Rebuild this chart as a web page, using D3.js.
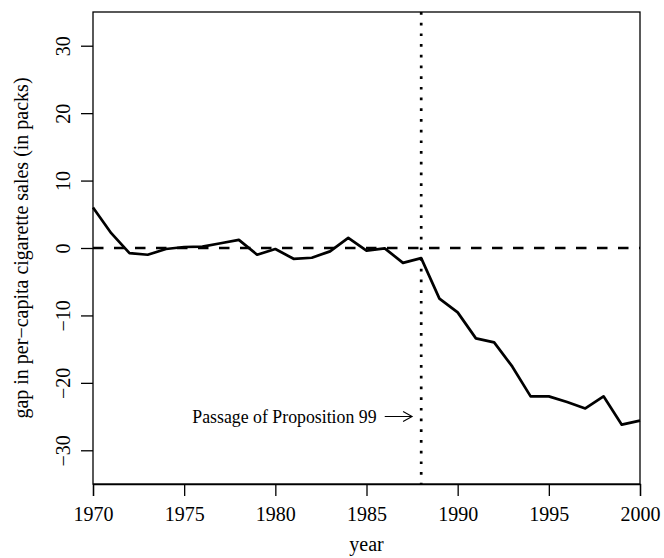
<!DOCTYPE html>
<html>
<head>
<meta charset="utf-8">
<script src="https://cdn.jsdelivr.net/npm/d3@7"></script>
<style>
  body { margin: 0; background: #fff; }
  text { font-family: "Liberation Serif", "Times New Roman", serif; fill: #000; }
</style>
</head>
<body>
<div id="chart"></div>
<script>
// gap between California and synthetic California
const years = d3.range(1970, 2001);
const gap = [6.0, 2.2, -0.75, -1.0, -0.15, 0.15, 0.2, 0.7, 1.2, -1.0,
  -0.15, -1.6, -1.45, -0.5, 1.5, -0.4, -0.05, -2.2, -1.5, -7.5,
  -9.55, -13.4, -14.0, -17.6, -22.0, -22.0, -22.85, -23.8, -22.0, -26.2,
  -25.6];
const xTicks = [1970, 1975, 1980, 1985, 1990, 1995, 2000];
const yTicks = [-30, -20, -10, 0, 10, 20, 30];
const treatYear = 1988;
const note = { x: 1980.5, y: -25, label: "Passage of Proposition 99", from: 1986, to: 1987.5 };

(function () {
  const width = 664, height = 558;
  const left = 93, right = 640, top = 12, bottom = 484;

  const svg = d3.select("#chart").append("svg")
    .attr("width", width)
    .attr("height", height);

  const x = d3.scaleLinear().domain([1970, 2000]).range([left, right]);
  const y = d3.scaleLinear().domain([-35, 35]).range([bottom, top]);

  // x axis
  const xAxis = svg.append("g")
    .attr("transform", `translate(0,${bottom})`)
    .call(d3.axisBottom(x).tickValues(xTicks).tickFormat(d3.format("d")).tickSize(12).tickPadding(6));
  xAxis.select(".domain").attr("stroke-width", 1.3);
  xAxis.selectAll(".tick line").attr("stroke-width", 1.3);
  xAxis.selectAll(".tick text")
    .style("font-size", "20px")
    .attr("font-family", null)
    .attr("dy", "0.95em");

  // y axis, labels turned like R does
  const yAxis = svg.append("g")
    .attr("transform", `translate(${left},0)`)
    .call(d3.axisLeft(y).tickValues(yTicks).tickSize(12).tickFormat(d => d < 0 ? "\u2212" + Math.abs(d) : d));
  yAxis.select(".domain").remove();
  yAxis.selectAll(".tick line").attr("stroke-width", 1.3);
  yAxis.selectAll(".tick text")
    .style("font-size", "20px")
    .attr("font-family", null)
    .attr("x", null).attr("dy", null)
    .attr("text-anchor", "middle")
    .attr("transform", `translate(-23,0) rotate(-90)`);

  // box
  svg.append("rect")
    .attr("x", left).attr("y", top)
    .attr("width", right - left).attr("height", bottom - top)
    .attr("fill", "none").attr("stroke", "#000").attr("stroke-width", 1.3);

  // reference lines
  svg.append("line")
    .attr("x1", left).attr("x2", right)
    .attr("y1", y(0)).attr("y2", y(0))
    .attr("stroke", "#000").attr("stroke-width", 2.7)
    .attr("stroke-dasharray", "10.5,10.5");

  svg.append("line")
    .attr("x1", x(treatYear)).attr("x2", x(treatYear))
    .attr("y1", top).attr("y2", bottom)
    .attr("stroke", "#000").attr("stroke-width", 2.7)
    .attr("stroke-dasharray", "2.7,8");

  // gap line
  const line = d3.line()
    .x((d, i) => x(years[i]))
    .y(d => y(d));

  svg.append("path")
    .datum(gap)
    .attr("fill", "none")
    .attr("stroke", "#000")
    .attr("stroke-width", 2.7)
    .attr("stroke-linejoin", "round")
    .attr("d", line);

  // annotation
  svg.append("text")
    .attr("x", x(note.x)).attr("y", y(note.y))
    .attr("dy", "0.35em")
    .attr("text-anchor", "middle")
    .style("font-size", "17.8px")
    .text(note.label);

  const ax1 = x(note.from), ax2 = x(note.to), ay = y(note.y);
  svg.append("path")
    .attr("d", `M${ax1},${ay}H${ax2}M${ax2 - 9},${ay - 5}L${ax2},${ay}L${ax2 - 9},${ay + 5}`)
    .attr("fill", "none").attr("stroke", "#000").attr("stroke-width", 1.1);

  // axis titles
  svg.append("text")
    .attr("x", (left + right) / 2).attr("y", 551)
    .attr("text-anchor", "middle")
    .style("font-size", "20px")
    .text("year");

  svg.append("text")
    .attr("transform", `translate(28,${(top + bottom) / 2}) rotate(-90)`)
    .attr("text-anchor", "middle")
    .style("font-size", "20px")
    .text("gap in per\u2212capita cigarette sales (in packs)");
})();
</script>
</body>
</html>
